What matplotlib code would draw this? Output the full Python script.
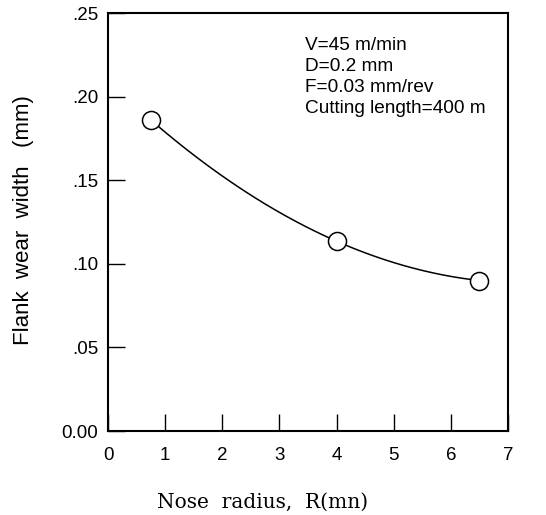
import numpy as np
import matplotlib
matplotlib.use("Agg")
import matplotlib.pyplot as plt

nose_radius = [0.75, 4.0, 6.5]
flank_wear = [0.186, 0.1135, 0.090]
y_ticks = [0.00, 0.05, 0.10, 0.15, 0.20, 0.25]
y_tick_labels = ["0.00", ".05", ".10", ".15", ".20", ".25"]
x_ticks = [0, 1, 2, 3, 4, 5, 6, 7]
conditions = ["V=45 m/min", "D=0.2 mm", "F=0.03 mm/rev", "Cutting length=400 m"]

fig = plt.figure(figsize=(5.46, 5.15), dpi=100)
W, H = 546, 515
L, R, T, B = 108, 508, 13, 431
ax = fig.add_axes([L / W, 1 - B / H, (R - L) / W, (B - T) / H])

coef = np.polyfit(nose_radius, flank_wear, 2)
xs = np.linspace(nose_radius[0], nose_radius[-1], 200)
ax.plot(xs, np.polyval(coef, xs), color="black", lw=1.1, zorder=2)
ax.plot(nose_radius, flank_wear, "o", ms=13, mfc="white", mec="black", mew=1.1, zorder=3, clip_on=False)

ax.set_xlim(0, 7)
ax.set_ylim(0, 0.25)
ax.set_xticks(x_ticks)
ax.set_xticklabels([str(v) for v in x_ticks], fontfamily="Liberation Sans", fontsize=13.5)
ax.set_yticks(y_ticks)
ax.set_yticklabels(y_tick_labels, fontfamily="Liberation Sans", fontsize=13.5)
ax.tick_params(axis="x", direction="in", length=12, width=1.0, pad=11.5)
ax.tick_params(axis="y", direction="in", length=12, width=1.0, pad=7)
for s in ax.spines.values():
    s.set_linewidth(1.5)

fig.text(305 / W, 1 - 37 / H, "\n".join(conditions), ha="left", va="top",
         fontfamily="Liberation Sans", fontsize=13.7, linespacing=1.3)

fig.text(24 / W, 1 - 220 / H, "Flank  wear  width   (mm)", rotation=90, ha="center", va="center",
         fontfamily="Liberation Sans", fontsize=16)
fig.text(263 / W, 1 - 502 / H, "Nose  radius,  R(mn)", ha="center", va="center",
         fontfamily="DejaVu Serif", fontsize=14.5)

fig.savefig("out.png", dpi=100)
